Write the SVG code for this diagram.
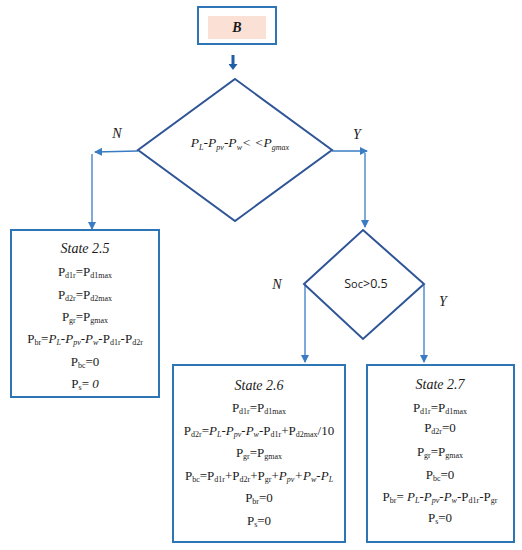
<svg xmlns="http://www.w3.org/2000/svg" width="522" height="550" viewBox="0 0 522 550">
<style>
.box{fill:#fff;stroke:#2e75b6;stroke-width:2}
.dia{fill:#fff;stroke:#2f5597;stroke-width:2}
.con{fill:none;stroke:#3a7cc4;stroke-width:1.3}
.t{font-family:"Liberation Serif",serif;font-size:13px;fill:#1a1a1a;text-anchor:middle}
.s{font-size:8px}
.i{font-style:italic}
.lbl{font-family:"Liberation Serif",serif;font-size:14px;font-style:italic;fill:#1a1a1a;text-anchor:middle}
</style>
<defs>
<marker id="ah" markerWidth="8" markerHeight="8" refX="7" refY="4" orient="auto" markerUnits="userSpaceOnUse">
<path d="M0,0 L8,4 L0,8 Z" fill="#3a7cc4"/>
</marker>
<marker id="ahb" markerWidth="9" markerHeight="9" refX="3" refY="4.5" orient="auto" markerUnits="userSpaceOnUse">
<path d="M0,0 L6,4.5 L0,9 Z" fill="#1f5fa8"/>
</marker>
</defs>
<g id="connectors">
<line x1="233" y1="55" x2="233" y2="67" stroke="#1f5fa8" stroke-width="3" marker-end="url(#ahb)"/>
<line class="con" x1="138" y1="151" x2="95" y2="152" marker-end="url(#ah)"/>
<line class="con" x1="92" y1="154" x2="92" y2="229" marker-end="url(#ah)"/>
<line class="con" x1="332" y1="151" x2="367" y2="151" marker-end="url(#ah)"/>
<line class="con" x1="365" y1="153" x2="365" y2="227" marker-end="url(#ah)"/>
<line class="con" x1="305" y1="285" x2="305" y2="362" marker-end="url(#ah)"/>
<line class="con" x1="424" y1="285" x2="424" y2="362" marker-end="url(#ah)"/>
<text class="lbl" x="117" y="138">N</text>
<text class="lbl" x="357" y="139">Y</text>
<text class="lbl" x="277" y="289">N</text>
<text class="lbl" x="443" y="306">Y</text>
</g>
<g id="nodeB">
<rect class="box" x="198" y="7" width="78" height="37"/>
<rect x="208" y="16" width="58" height="23" fill="#fbe1d5"/>
<text class="t i" x="237" y="32" style="font-size:14px;font-weight:bold">B</text>
</g>
<g id="decision1">
<polygon class="dia" points="235,79 332,150 235,221 138,150"/>
<text class="t i" x="240" y="147" style="font-size:13.5px">P<tspan class="s" dy="3">L</tspan><tspan dy="-3">-P</tspan><tspan class="s" dy="3">pv</tspan><tspan dy="-3">-P</tspan><tspan class="s" dy="3">w</tspan><tspan dy="-3">&lt; &lt;P</tspan><tspan class="s" dy="3">gmax</tspan></text>
</g>
<g id="decision2">
<polygon class="dia" points="363,230 424,284 363,339 304,284"/>
<text x="366" y="288" style="font-family:'Open Sans','Liberation Sans',sans-serif;font-size:12.5px;fill:#1a1a1a;text-anchor:middle">S<tspan style="font-size:11px">oc</tspan>&gt;0.5</text>
</g>
<g id="state25">
<rect class="box" x="11" y="230" width="148" height="167"/>
<text class="t i" x="85" y="253" style="font-size:14px">State 2.5</text>
<text class="t" x="85" y="276">P<tspan class="s" dy="2">d1r</tspan><tspan dy="-2">=P</tspan><tspan class="s" dy="2">d1max</tspan></text>
<text class="t" x="85" y="299">P<tspan class="s" dy="2">d2r</tspan><tspan dy="-2">=P</tspan><tspan class="s" dy="2">d2max</tspan></text>
<text class="t" x="85" y="321">P<tspan class="s" dy="2">gr</tspan><tspan dy="-2">=P</tspan><tspan class="s" dy="2">gmax</tspan></text>
<text class="t" x="85" y="343">P<tspan class="s" dy="2">br</tspan><tspan dy="-2">=</tspan><tspan class="i">P</tspan><tspan class="s i" dy="2">L</tspan><tspan class="i" dy="-2">-P</tspan><tspan class="s i" dy="2">pv</tspan><tspan class="i" dy="-2">-P</tspan><tspan class="s i" dy="2">w</tspan><tspan dy="-2">-P</tspan><tspan class="s" dy="2">d1r</tspan><tspan dy="-2">-P</tspan><tspan class="s" dy="2">d2r</tspan></text>
<text class="t" x="85" y="366">P<tspan class="s" dy="2">bc</tspan><tspan dy="-2">=0</tspan></text>
<text class="t" x="85" y="388">P<tspan class="s" dy="2">s</tspan><tspan dy="-2">= </tspan><tspan class="i">0</tspan></text>
</g>
<g id="state26">
<rect class="box" x="173" y="365" width="172" height="177"/>
<text class="t i" x="259" y="390" style="font-size:14px">State 2.6</text>
<text class="t" x="259" y="412">P<tspan class="s" dy="2">d1r</tspan><tspan dy="-2">=P</tspan><tspan class="s" dy="2">d1max</tspan></text>
<text class="t" x="259" y="435">P<tspan class="s" dy="2">d2r</tspan><tspan dy="-2">=</tspan><tspan class="i">P</tspan><tspan class="s i" dy="2">L</tspan><tspan class="i" dy="-2">-P</tspan><tspan class="s i" dy="2">pv</tspan><tspan class="i" dy="-2">-P</tspan><tspan class="s i" dy="2">w</tspan><tspan dy="-2">-P</tspan><tspan class="s" dy="2">d1r</tspan><tspan dy="-2">+P</tspan><tspan class="s" dy="2">d2max</tspan><tspan dy="-2">/10</tspan></text>
<text class="t" x="259" y="457">P<tspan class="s" dy="2">gr</tspan><tspan dy="-2">=P</tspan><tspan class="s" dy="2">gmax</tspan></text>
<text class="t" x="259" y="480">P<tspan class="s" dy="2">bc</tspan><tspan dy="-2">=P</tspan><tspan class="s" dy="2">d1r</tspan><tspan dy="-2">+P</tspan><tspan class="s" dy="2">d2r</tspan><tspan dy="-2">+P</tspan><tspan class="s" dy="2">gr</tspan><tspan dy="-2">+</tspan><tspan class="i">P</tspan><tspan class="s i" dy="2">pv</tspan><tspan class="i" dy="-2">+P</tspan><tspan class="s i" dy="2">w</tspan><tspan class="i" dy="-2">-P</tspan><tspan class="s i" dy="2">L</tspan></text>
<text class="t" x="259" y="502">P<tspan class="s" dy="2">br</tspan><tspan dy="-2">=0</tspan></text>
<text class="t" x="259" y="525">P<tspan class="s" dy="2">s</tspan><tspan dy="-2">=0</tspan></text>
</g>
<g id="state27">
<rect class="box" x="367" y="365" width="147" height="177"/>
<text class="t i" x="440" y="389" style="font-size:14px">State 2.7</text>
<text class="t" x="440" y="412">P<tspan class="s" dy="2">d1r</tspan><tspan dy="-2">=P</tspan><tspan class="s" dy="2">d1max</tspan></text>
<text class="t" x="440" y="432">P<tspan class="s" dy="2">d2r</tspan><tspan dy="-2">=0</tspan></text>
<text class="t" x="440" y="456">P<tspan class="s" dy="2">gr</tspan><tspan dy="-2">=P</tspan><tspan class="s" dy="2">gmax</tspan></text>
<text class="t" x="440" y="479">P<tspan class="s" dy="2">bc</tspan><tspan dy="-2">=0</tspan></text>
<text class="t" x="440" y="501">P<tspan class="s" dy="2">br</tspan><tspan dy="-2">= </tspan><tspan class="i">P</tspan><tspan class="s i" dy="2">L</tspan><tspan class="i" dy="-2">-P</tspan><tspan class="s i" dy="2">pv</tspan><tspan class="i" dy="-2">-P</tspan><tspan class="s i" dy="2">w</tspan><tspan dy="-2">-P</tspan><tspan class="s" dy="2">d1r</tspan><tspan dy="-2">-P</tspan><tspan class="s" dy="2">gr</tspan></text>
<text class="t" x="440" y="522">P<tspan class="s" dy="2">s</tspan><tspan dy="-2">=0</tspan></text>
</g>
</svg>
